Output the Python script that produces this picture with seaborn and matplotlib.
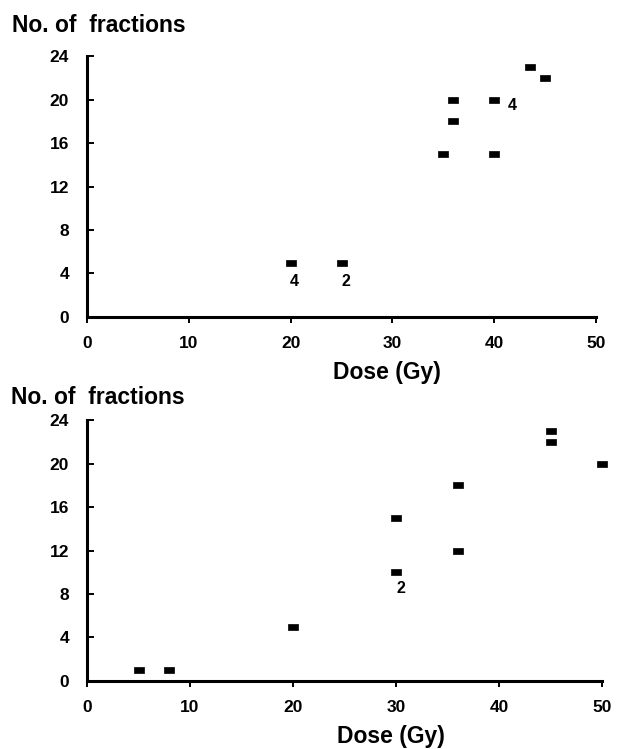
import matplotlib
matplotlib.use("Agg")
import matplotlib.pyplot as plt
import seaborn as sns
import pandas as pd

# values
top_dose = [20, 25, 35, 36, 36, 40, 40, 43.5, 45]
top_fractions = [5, 5, 15, 20, 18, 20, 15, 23, 22]
top_counts = {0: "4", 1: "2", 5: "4"}          # point index -> number of cases
bottom_dose = [5, 8, 20, 30, 30, 36, 36, 45, 45, 50]
bottom_fractions = [1, 1, 5, 15, 10, 18, 12, 23, 22, 20]
bottom_counts = {4: "2"}

x_ticks = [0, 10, 20, 30, 40, 50]
y_ticks = [0, 4, 8, 12, 16, 20, 24]

sns.set_style("ticks", rc={"text.color": "black", "axes.labelcolor": "black",
                           "xtick.color": "black", "ytick.color": "black",
                           "axes.edgecolor": "black"})
plt.rcParams["font.family"] = ["Liberation Sans Narrow", "Liberation Sans", "DejaVu Sans"]
plt.rcParams["font.weight"] = "bold"

# small flat rectangle marker like the printed figure
rect = [(-1, -0.55), (1, -0.55), (1, 0.55), (-1, 0.55), (-1, -0.55)]

# where the little count numbers sit relative to the point (offset points)
label_offsets = {"top": {0: (2.5, -13.5), 1: (3.5, -13.5), 5: (13, -4)},
                 "bottom": {4: (3.5, -12)}}

fig = plt.figure(figsize=(6.17, 7.49), dpi=100)
ax_top = fig.add_axes([0.141, 0.577, 0.825, 0.348])
ax_bot = fig.add_axes([0.141, 0.091, 0.835, 0.348])

panels = [
    (ax_top, top_dose, top_fractions, top_counts, "top", 1.117),
    (ax_bot, bottom_dose, bottom_fractions, bottom_counts, "bottom", 1.088),
]

for ax, dose, fx, counts, key, title_y in panels:
    df = pd.DataFrame({"dose": dose, "fractions": fx})
    sns.scatterplot(data=df, x="dose", y="fractions", ax=ax, marker=rect,
                    s=48, color="black", edgecolor="black", linewidth=0.5,
                    clip_on=False, zorder=3)

    for i, txt in counts.items():
        ax.annotate(txt, (dose[i], fx[i]), xytext=label_offsets[key][i],
                    textcoords="offset points", ha="center", va="center",
                    fontsize=11.5, fontweight="bold")

    ax.set_xlim(0, 50)
    ax.set_ylim(0, 24)
    ax.set_xticks(x_ticks)
    ax.set_yticks(y_ticks)
    ax.tick_params(axis="x", direction="out", length=4.5, width=1.4, pad=9, labelsize=12.5)
    ax.tick_params(axis="y", direction="in", length=5, width=1.4, pad=13, labelsize=12.5)
    for lab in ax.get_xticklabels() + ax.get_yticklabels():
        lab.set_fontweight("bold")

    sns.despine(ax=ax)
    ax.spines["left"].set_linewidth(2.2)
    ax.spines["bottom"].set_linewidth(2.2)

    ax.set_xlabel("Dose (Gy)", fontsize=16.5, fontweight="bold")
    ax.xaxis.set_label_coords(0.59, -0.215)
    ax.xaxis.label.set_va("center")
    ax.set_ylabel("")
    ax.text(-0.147, title_y, "No. of  fractions", transform=ax.transAxes,
            fontsize=16.5, fontweight="bold", ha="left", va="center")

fig.savefig("out.png", dpi=100)
